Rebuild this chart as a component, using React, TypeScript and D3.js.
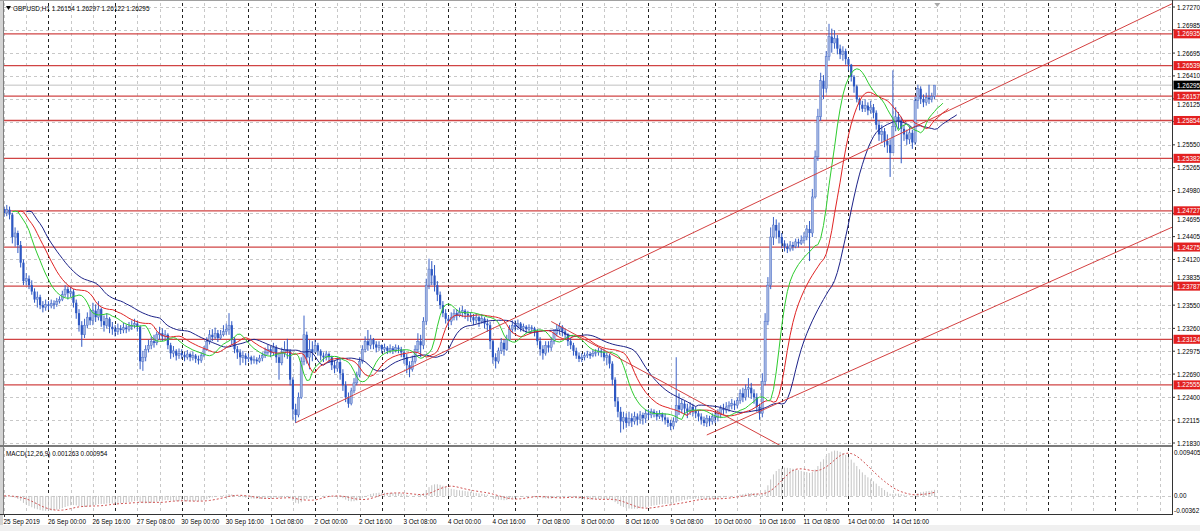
import React from 'react';
import * as d3 from 'd3';

// ---------- data ----------
const headerSymbol = 'GBPUSD,H1';
const headerOHLC = ['1.26154', '1.26297', '1.26122', '1.26295'];
const macdTitle = 'MACD(12,26,9) 0.001263 0.000954';

const firstOpen = 1.2475;
const closes = [
  1.2470,1.2474,1.2468,1.2440,1.2445,1.2430,1.2408,1.2385,
  1.2388,1.2380,1.2372,1.2362,1.2365,1.2355,1.2352,1.2356,
  1.2354,1.2357,1.2356,1.2360,1.2362,1.2368,1.2375,1.2370,
  1.2372,1.2358,1.2345,1.2330,1.2318,1.2330,1.2340,1.2336,
  1.2348,1.2340,1.2350,1.2335,1.2330,1.2338,1.2328,1.2325,
  1.2322,1.2326,1.2324,1.2327,1.2325,1.2328,1.2330,1.2332,
  1.2328,1.2285,1.2290,1.2300,1.2305,1.2310,1.2308,1.2318,
  1.2320,1.2316,1.2318,1.2305,1.2295,1.2298,1.2292,1.2295,
  1.2293,1.2290,1.2294,1.2290,1.2292,1.2288,1.2286,1.2292,
  1.2300,1.2310,1.2318,1.2315,1.2320,1.2314,1.2318,1.2322,
  1.2325,1.2330,1.2312,1.2300,1.2296,1.2290,1.2292,1.2288,
  1.2290,1.2286,1.2287,1.2285,1.2289,1.2292,1.2296,1.2300,
  1.2296,1.2302,1.2290,1.2283,1.2295,1.2300,1.2298,1.2262,
  1.2225,1.2218,1.2240,1.2285,1.2318,1.2290,1.2300,1.2296,
  1.2305,1.2298,1.2292,1.2290,1.2294,1.2290,1.2280,1.2276,
  1.2284,1.2270,1.2255,1.2240,1.2232,1.2248,1.2258,1.2268,
  1.2285,1.2300,1.2310,1.2305,1.2312,1.2306,1.2302,1.2305,
  1.2300,1.2302,1.2298,1.2301,1.2299,1.2302,1.2300,1.2296,
  1.2290,1.2280,1.2275,1.2285,1.2300,1.2310,1.2305,1.2335,
  1.2380,1.2400,1.2392,1.2380,1.2368,1.2355,1.2345,1.2338,
  1.2335,1.2340,1.2345,1.2342,1.2346,1.2348,1.2344,1.2342,
  1.2340,1.2336,1.2340,1.2335,1.2338,1.2332,1.2330,1.2310,
  1.2290,1.2285,1.2298,1.2308,1.2300,1.2312,1.2325,1.2330,
  1.2328,1.2332,1.2326,1.2328,1.2325,1.2327,1.2326,1.2322,
  1.2310,1.2300,1.2295,1.2305,1.2302,1.2310,1.2320,1.2325,
  1.2328,1.2322,1.2318,1.2310,1.2305,1.2298,1.2292,1.2288,
  1.2290,1.2292,1.2294,1.2292,1.2295,1.2296,1.2298,1.2296,
  1.2290,1.2292,1.2282,1.2262,1.2235,1.2222,1.2210,1.2215,
  1.2208,1.2214,1.2210,1.2216,1.2212,1.2218,1.2214,1.2220,
  1.2218,1.2222,1.2220,1.2216,1.2219,1.2215,1.2212,1.2208,
  1.2204,1.2210,1.2230,1.2225,1.2232,1.2226,1.2222,1.2228,
  1.2224,1.2220,1.2216,1.2212,1.2208,1.2214,1.2210,1.2216,
  1.2215,1.2220,1.2226,1.2224,1.2228,1.2230,1.2232,1.2230,
  1.2236,1.2245,1.2240,1.2250,1.2252,1.2245,1.2240,1.2228,
  1.2220,1.2260,1.2335,1.2380,1.2440,1.2455,1.2448,1.2440,
  1.2432,1.2428,1.2425,1.2430,1.2428,1.2434,1.2432,1.2436,
  1.2440,1.2450,1.2445,1.2490,1.2540,1.2590,1.2635,1.2625,
  1.2665,1.2690,1.2682,1.2688,1.2675,1.2668,1.2672,1.2662,
  1.2655,1.2640,1.2628,1.2612,1.2605,1.2600,1.2604,1.2598,
  1.2602,1.2595,1.2580,1.2568,1.2572,1.2560,1.2555,1.2545,
  1.2578,1.2590,1.2585,1.2575,1.2568,1.2562,1.2570,1.2558,
  1.2610,1.2625,1.2612,1.2608,1.2614,1.2612,1.26154,1.26295,
];
const highs = [
  1.2478,1.2480,1.2478,1.2470,1.2452,1.2448,1.2435,1.2412,
  1.2395,1.2392,1.2386,1.2376,1.2372,1.2368,1.2360,1.2362,
  1.2360,1.2362,1.2361,1.2364,1.2366,1.2373,1.2380,1.2378,
  1.2378,1.2375,1.2362,1.2350,1.2335,1.2338,1.2346,1.2350,
  1.2358,1.2356,1.2360,1.2352,1.2342,1.2345,1.2340,1.2334,
  1.2330,1.2332,1.2330,1.2333,1.2331,1.2334,1.2336,1.2338,
  1.2336,1.2330,1.2298,1.2305,1.2312,1.2316,1.2318,1.2322,
  1.2328,1.2326,1.2324,1.2320,1.2308,1.2304,1.2300,1.2301,
  1.2300,1.2297,1.2299,1.2296,1.2297,1.2294,1.2292,1.2296,
  1.2304,1.2315,1.2324,1.2325,1.2327,1.2324,1.2324,1.2330,
  1.2332,1.2345,1.2335,1.2315,1.2304,1.2300,1.2298,1.2295,
  1.2295,1.2292,1.2292,1.2290,1.2293,1.2296,1.2302,1.2306,
  1.2304,1.2308,1.2305,1.2296,1.2302,1.2310,1.2313,1.2300,
  1.2265,1.2232,1.2246,1.2290,1.2342,1.2322,1.2312,1.2310,
  1.2312,1.2308,1.2300,1.2296,1.2298,1.2296,1.2292,1.2286,
  1.2290,1.2288,1.2275,1.2260,1.2246,1.2252,1.2264,1.2272,
  1.2290,1.2305,1.2316,1.2324,1.2318,1.2314,1.2310,1.2310,
  1.2306,1.2307,1.2304,1.2306,1.2304,1.2306,1.2305,1.2303,
  1.2300,1.2294,1.2285,1.2292,1.2305,1.2320,1.2318,1.2340,
  1.2388,1.2413,1.2410,1.2405,1.2385,1.2372,1.2360,1.2350,
  1.2342,1.2346,1.2350,1.2350,1.2352,1.2354,1.2350,1.2348,
  1.2346,1.2344,1.2345,1.2342,1.2344,1.2340,1.2338,1.2334,
  1.2312,1.2295,1.2302,1.2314,1.2312,1.2318,1.2330,1.2336,
  1.2336,1.2337,1.2334,1.2332,1.2330,1.2331,1.2330,1.2328,
  1.2325,1.2315,1.2305,1.2310,1.2310,1.2315,1.2325,1.2331,
  1.2333,1.2330,1.2326,1.2320,1.2314,1.2308,1.2302,1.2296,
  1.2295,1.2296,1.2298,1.2297,1.2299,1.2300,1.2302,1.2301,
  1.2300,1.2296,1.2294,1.2285,1.2265,1.2240,1.2228,1.2222,
  1.2220,1.2222,1.2220,1.2222,1.2220,1.2223,1.2221,1.2225,
  1.2225,1.2226,1.2225,1.2223,1.2224,1.2221,1.2220,1.2215,
  1.2212,1.2215,1.2290,1.2245,1.2238,1.2236,1.2232,1.2234,
  1.2232,1.2228,1.2224,1.2220,1.2216,1.2218,1.2217,1.2220,
  1.2222,1.2225,1.2230,1.2232,1.2234,1.2235,1.2238,1.2236,
  1.2240,1.2250,1.2252,1.2256,1.2264,1.2258,1.2250,1.2245,
  1.2232,1.2270,1.2345,1.2390,1.2452,1.2465,1.2462,1.2458,
  1.2445,1.2436,1.2432,1.2435,1.2434,1.2438,1.2438,1.2442,
  1.2446,1.2455,1.2460,1.2500,1.2548,1.2600,1.2645,1.2642,
  1.2672,1.2706,1.2700,1.2698,1.2692,1.2680,1.2678,1.2675,
  1.2664,1.2656,1.2642,1.2630,1.2614,1.2610,1.2612,1.2608,
  1.2610,1.2606,1.2598,1.2585,1.2580,1.2576,1.2568,1.2562,
  1.2648,1.2602,1.2596,1.2590,1.2580,1.2574,1.2578,1.2574,
  1.2615,1.2630,1.2628,1.2618,1.2620,1.2630,1.2620,1.26297,
];
const lows = [
  1.2465,1.2466,1.2462,1.2432,1.2428,1.2420,1.2402,1.2380,
  1.2380,1.2375,1.2368,1.2358,1.2352,1.2350,1.2346,1.2348,
  1.2349,1.2351,1.2350,1.2353,1.2357,1.2360,1.2365,1.2362,
  1.2365,1.2352,1.2338,1.2322,1.2303,1.2314,1.2326,1.2330,
  1.2330,1.2334,1.2336,1.2328,1.2322,1.2326,1.2320,1.2318,
  1.2316,1.2318,1.2319,1.2320,1.2320,1.2322,1.2324,1.2326,
  1.2322,1.2275,1.2273,1.2285,1.2296,1.2300,1.2302,1.2305,
  1.2312,1.2310,1.2312,1.2300,1.2288,1.2290,1.2286,1.2288,
  1.2288,1.2285,1.2287,1.2285,1.2286,1.2283,1.2281,1.2283,
  1.2290,1.2298,1.2306,1.2310,1.2312,1.2309,1.2312,1.2316,
  1.2318,1.2318,1.2305,1.2295,1.2288,1.2280,1.2283,1.2280,
  1.2284,1.2281,1.2282,1.2281,1.2283,1.2285,1.2289,1.2293,
  1.2290,1.2292,1.2283,1.2262,1.2280,1.2290,1.2288,1.2255,
  1.2212,1.2208,1.2215,1.2238,1.2280,1.2282,1.2275,1.2285,
  1.2296,1.2292,1.2286,1.2284,1.2286,1.2283,1.2274,1.2270,
  1.2272,1.2262,1.2248,1.2234,1.2227,1.2230,1.2245,1.2255,
  1.2265,1.2282,1.2296,1.2298,1.2300,1.2300,1.2296,1.2298,
  1.2295,1.2296,1.2294,1.2295,1.2294,1.2296,1.2295,1.2290,
  1.2282,1.2270,1.2265,1.2272,1.2282,1.2296,1.2290,1.2300,
  1.2330,1.2375,1.2380,1.2372,1.2360,1.2350,1.2340,1.2332,
  1.2328,1.2330,1.2336,1.2336,1.2340,1.2340,1.2338,1.2335,
  1.2334,1.2330,1.2332,1.2328,1.2332,1.2326,1.2322,1.2300,
  1.2282,1.2276,1.2282,1.2294,1.2292,1.2298,1.2310,1.2320,
  1.2322,1.2324,1.2322,1.2322,1.2320,1.2322,1.2321,1.2316,
  1.2305,1.2292,1.2287,1.2292,1.2296,1.2298,1.2306,1.2316,
  1.2318,1.2316,1.2312,1.2304,1.2300,1.2292,1.2288,1.2284,
  1.2284,1.2286,1.2289,1.2288,1.2290,1.2291,1.2292,1.2290,
  1.2285,1.2280,1.2276,1.2255,1.2228,1.2215,1.2196,1.2200,
  1.2202,1.2204,1.2203,1.2206,1.2205,1.2207,1.2206,1.2208,
  1.2212,1.2214,1.2215,1.2211,1.2213,1.2210,1.2206,1.2203,
  1.2199,1.2200,1.2208,1.2218,1.2220,1.2218,1.2214,1.2218,
  1.2216,1.2214,1.2210,1.2206,1.2204,1.2203,1.2204,1.2206,
  1.2208,1.2210,1.2214,1.2218,1.2220,1.2222,1.2225,1.2224,
  1.2226,1.2232,1.2234,1.2236,1.2240,1.2238,1.2232,1.2222,
  1.2212,1.2215,1.2255,1.2330,1.2375,1.2430,1.2438,1.2432,
  1.2426,1.2422,1.2420,1.2422,1.2423,1.2426,1.2427,1.2430,
  1.2432,1.2436,1.2410,1.2440,1.2488,1.2535,1.2585,1.2612,
  1.2620,1.2660,1.2670,1.2675,1.2668,1.2662,1.2660,1.2655,
  1.2648,1.2634,1.2620,1.2608,1.2598,1.2596,1.2596,1.2592,
  1.2594,1.2588,1.2574,1.2560,1.2558,1.2552,1.2545,1.2515,
  1.2548,1.2572,1.2575,1.2532,1.2560,1.2555,1.2556,1.2550,
  1.2555,1.2600,1.2606,1.2602,1.2604,1.2606,1.2608,1.26122,
];

const priceTicks = [
  1.27270, 1.26985, 1.26695, 1.26410, 1.26125, 1.25840, 1.25550, 1.25265, 1.24980, 1.24695,
  1.24405, 1.24120, 1.23835, 1.23550, 1.23260, 1.22975, 1.22690, 1.22400, 1.22115, 1.21830,
];
const levelLines = [1.26935, 1.26539, 1.26157, 1.25854, 1.25382, 1.24727, 1.24275, 1.23787, 1.23124, 1.22555];
const bidPrice = 1.26295;

const timeLabelBars = [0, 16, 32, 48, 64, 80, 96, 112, 128, 144, 160, 176, 192, 208, 224, 240, 256, 272, 288, 304, 320];
const timeLabels = [
  '25 Sep 2019', '26 Sep 00:00', '26 Sep 16:00', '27 Sep 08:00', '30 Sep 00:00', '30 Sep 16:00',
  '1 Oct 08:00', '2 Oct 00:00', '2 Oct 16:00', '3 Oct 08:00', '4 Oct 00:00', '4 Oct 16:00',
  '7 Oct 08:00', '8 Oct 00:00', '8 Oct 16:00', '9 Oct 08:00', '10 Oct 00:00', '10 Oct 16:00',
  '11 Oct 08:00', '14 Oct 00:00', '14 Oct 16:00',
];
const daySeparatorBars = [16, 40, 64, 88, 112, 136, 160, 184, 208, 232, 256, 280, 304, 328, 352, 376, 400];

// trend lines: [bar1, price1, bar2, price2], drawn as rays to the right
const trendLines = [
  [105, 1.22083, 335, 1.25894],
  [253, 1.21930, 335, 1.23199],
  [197, 1.23346, 277, 1.21844],
];

const macdTickValues = [0.009405, 0.0, -0.00362];
const macdTickLabels = ['0.009405', '0.00', '-0.00362'];

// ---------- helpers ----------
function smma(src: number[], n: number) {
  const out: number[] = [];
  let v = 0;
  let sum = 0;
  src.forEach((p, i) => {
    if (i < n) { sum += p; v = sum / (i + 1); } else { v = (v * (n - 1) + p) / n; }
    out.push(v);
  });
  return out;
}
function ema(src: number[], n: number) {
  const k = 2 / (n + 1);
  const out: number[] = [];
  let v = src[0];
  src.forEach((p, i) => { v = i === 0 ? p : p * k + v * (1 - k); out.push(v); });
  return out;
}
function sma(src: number[], n: number) {
  return src.map((_, i) => {
    const s = src.slice(Math.max(0, i - n + 1), i + 1);
    return d3.mean(s) as number;
  });
}

const FONT = '"Liberation Sans", Arial, sans-serif';
const FS = 6.4;

export default function App() {
  const W = 1200, H = 531;
  const L = 4, R = 1172, T = 3, MB = 445, MT = 448, MBOT = 514;
  const STEP = 2.7778;
  const x = d3.scaleLinear().domain([0, 420]).range([L, L + 420 * STEP]);
  const y = d3.scaleLinear().domain([1.2183, 1.2727]).range([443, 7]);
  const ym = d3.scaleLinear().domain([-0.00362, 0.009405]).range([MBOT, 449]);

  const opens = closes.map((c, i) => (i === 0 ? firstOpen : closes[i - 1]));
  const median = highs.map((h, i) => (h + lows[i]) / 2);
  const jaw = smma(median, 13);
  const teeth = smma(median, 8);
  const lips = smma(median, 5);
  const line = d3.line<[number, number]>().x(d => x(d[0])).y(d => y(d[1]));
  const shifted = (arr: number[], s: number) => arr.map((v, i) => [i + s, v] as [number, number]);

  const e12 = ema(closes, 12), e26 = ema(closes, 26);
  const macd = closes.map((_, i) => e12[i] - e26[i]);
  const signal = sma(macd, 9);
  const mline = d3.line<number>().x((_, i) => x(i)).y(d => ym(d));

  const gridBars = d3.range(0, 424, 8);
  const fmt = d3.format('.5f');

  // tick labels: fully hidden behind a level box -> skipped; partly hidden -> nudged clear of the box
  const boxes = [...levelLines, bidPrice].map(p => y(p));
  const tickLabelPos: { p: number; yy: number }[] = [];
  priceTicks.forEach(p => {
    let yy = y(p);
    const near = boxes.find(b => Math.abs(b - yy) < 8.5);
    if (near !== undefined) {
      if (Math.abs(near - yy) < 1.8) return;
      yy = yy < near ? near - 8.5 : near + 8.5;
    }
    tickLabelPos.push({ p, yy });
  });

  const lvlColor = '#d04444';
  const bullCol = '#9fb2df';
  const bearCol = '#2d57c2';
  const wickCol = '#3d63c6';

  return (
    <svg width={W} height={H} style={{ position: 'absolute', left: 0, top: 0, background: '#fff' }} fontFamily={FONT}>
      <defs>
        <clipPath id="clipMain"><rect x={L} y={T} width={R - L} height={MB - T} /></clipPath>
        <clipPath id="clipMacd"><rect x={L} y={MT} width={R - L} height={MBOT - MT} /></clipPath>
      </defs>
      <rect x={0} y={0} width={W} height={H} fill="#fff" />
      <rect x={0} y={525} width={W} height={6} fill="#f0f0f0" />
      <rect x={0} y={0} width={3} height={525} fill="#d4d4d4" />
      <line x1={3.5} y1={0} x2={3.5} y2={MBOT} stroke="#808080" />
      <line x1={0} y1={0.5} x2={W} y2={0.5} stroke="#a0a0a0" />

      <g clipPath="url(#clipMain)">
        {priceTicks.map(p => (
          <line key={'hg' + p} x1={L} x2={R} y1={Math.round(y(p)) + 0.5} y2={Math.round(y(p)) + 0.5}
            stroke="#c8c8c8" strokeDasharray="3,3" />
        ))}
        {gridBars.map(b => (
          <line key={'vg' + b} x1={Math.round(x(b)) + 0.5} x2={Math.round(x(b)) + 0.5} y1={T} y2={MB}
            stroke="#c8c8c8" strokeDasharray="3,3" />
        ))}
        {daySeparatorBars.map(b => (
          <line key={'ds' + b} x1={Math.round(x(b)) + 0.5} x2={Math.round(x(b)) + 0.5} y1={T} y2={MB}
            stroke="#222" strokeDasharray="3,3" />
        ))}
        <line x1={L} x2={R} y1={y(bidPrice)} y2={y(bidPrice)} stroke="#c0c0c0" />
        {levelLines.map(p => (
          <line key={'lv' + p} x1={L} x2={R} y1={y(p)} y2={y(p)} stroke={lvlColor} strokeWidth={1.3} />
        ))}
        {closes.map((c, i) => {
          const o = opens[i];
          const hi = Math.max(highs[i], o, c), lo = Math.min(lows[i], o, c);
          const bull = c >= o;
          const cx = x(i);
          const yt = y(Math.max(o, c)), yb = y(Math.min(o, c));
          return (
            <g key={'c' + i}>
              <line x1={cx} x2={cx} y1={y(hi)} y2={y(lo)} stroke={bull ? wickCol : bearCol} strokeWidth={1} />
              <rect x={cx - 1.1} y={yt} width={2.2} height={Math.max(1, yb - yt)}
                fill={bull ? bullCol : bearCol} stroke={bull ? wickCol : 'none'} strokeWidth={0.4} />
            </g>
          );
        })}
        <path d={line(shifted(jaw, 8)) || ''} fill="none" stroke="#1c2288" strokeWidth={1} />
        <path d={line(shifted(teeth, 5)) || ''} fill="none" stroke="#e02424" strokeWidth={1} />
        <path d={line(shifted(lips, 3)) || ''} fill="none" stroke="#2ecc2e" strokeWidth={1} />
        {trendLines.map((t, k) => {
          const [b1, p1, b2, p2] = t;
          const slope = (p2 - p1) / (b2 - b1);
          const bEnd = 430;
          return (
            <line key={'tl' + k} x1={x(b1)} y1={y(p1)} x2={x(bEnd)} y2={y(p1 + slope * (bEnd - b1))}
              stroke="#d44040" strokeWidth={1} />
          );
        })}
      </g>
      <path d={`M${x(336) - 3},${T} L${x(336) + 3},${T} L${x(336)},${T + 4} Z`} fill="#a8a8a8" />

      <rect x={0} y={445} width={R + 1} height={2} fill="#7a7a7a" />

      <g clipPath="url(#clipMacd)">
        <line x1={L} x2={R} y1={Math.round(ym(0)) + 0.5} y2={Math.round(ym(0)) + 0.5} stroke="#c8c8c8" strokeDasharray="3,3" />
        {gridBars.map(b => (
          <line key={'mvg' + b} x1={Math.round(x(b)) + 0.5} x2={Math.round(x(b)) + 0.5} y1={MT} y2={MBOT}
            stroke="#c8c8c8" strokeDasharray="3,3" />
        ))}
        {daySeparatorBars.map(b => (
          <line key={'mds' + b} x1={Math.round(x(b)) + 0.5} x2={Math.round(x(b)) + 0.5} y1={MT} y2={MBOT}
            stroke="#222" strokeDasharray="3,3" />
        ))}
        {macd.map((v, i) => (
          <line key={'h' + i} x1={x(i)} x2={x(i)} y1={ym(0)} y2={ym(v)} stroke="#c4c4c4" strokeWidth={1} />
        ))}
        <path d={mline(signal) || ''} fill="none" stroke="#d05050" strokeWidth={1} strokeDasharray="2,2" />
      </g>
      <line x1={0} x2={R + 1} y1={MBOT + 0.5} y2={MBOT + 0.5} stroke="#333" />
      <line x1={R + 0.5} x2={R + 0.5} y1={0} y2={MBOT} stroke="#333" />

      {priceTicks.map(p => (
        <line key={'ptk' + p} x1={R} x2={R + 3} y1={y(p)} y2={y(p)} stroke="#333" />
      ))}
      {tickLabelPos.map(({ p, yy }) => (
        <text key={'pt' + p} x={1177} y={yy} fontSize={FS} dominantBaseline="central" fill="#000">{fmt(p)}</text>
      ))}
      {levelLines.map(p => (
        <g key={'lb' + p}>
          <rect x={1173.5} y={y(p) - 4.5} width={27} height={9} fill="#e32020" />
          <text x={1177} y={y(p)} fontSize={FS} dominantBaseline="central" fill="#fff">{fmt(p)}</text>
        </g>
      ))}
      <rect x={1173.5} y={y(bidPrice) - 4.5} width={27} height={9} fill="#000" />
      <text x={1177} y={y(bidPrice)} fontSize={FS} dominantBaseline="central" fill="#fff">{fmt(bidPrice)}</text>

      {macdTickValues.map((v, k) => (
        <text key={'ml' + k} x={1174} fontSize={FS} dominantBaseline="central" fill="#000"
          y={k === 0 ? 452 : k === 2 ? 510 : ym(v)}>{macdTickLabels[k]}</text>
      ))}

      {timeLabelBars.map((b, k) => (
        <g key={'tx' + b}>
          <line x1={Math.round(x(b)) + 0.5} x2={Math.round(x(b)) + 0.5} y1={MBOT} y2={MBOT + 3} stroke="#333" />
          <text x={x(b) - 0.5} y={521} fontSize={FS} dominantBaseline="central" fill="#000">{timeLabels[k]}</text>
        </g>
      ))}

      <path d="M6,6 L11,6 L8.5,10 Z" fill="#000" />
      <text x={13} y={8} fontSize={FS} dominantBaseline="central" fill="#000">
        {headerSymbol + '  ' + headerOHLC.join(' ')}
      </text>
      <text x={6} y={453} fontSize={FS} dominantBaseline="central" fill="#000">{macdTitle}</text>
    </svg>
  );
}
